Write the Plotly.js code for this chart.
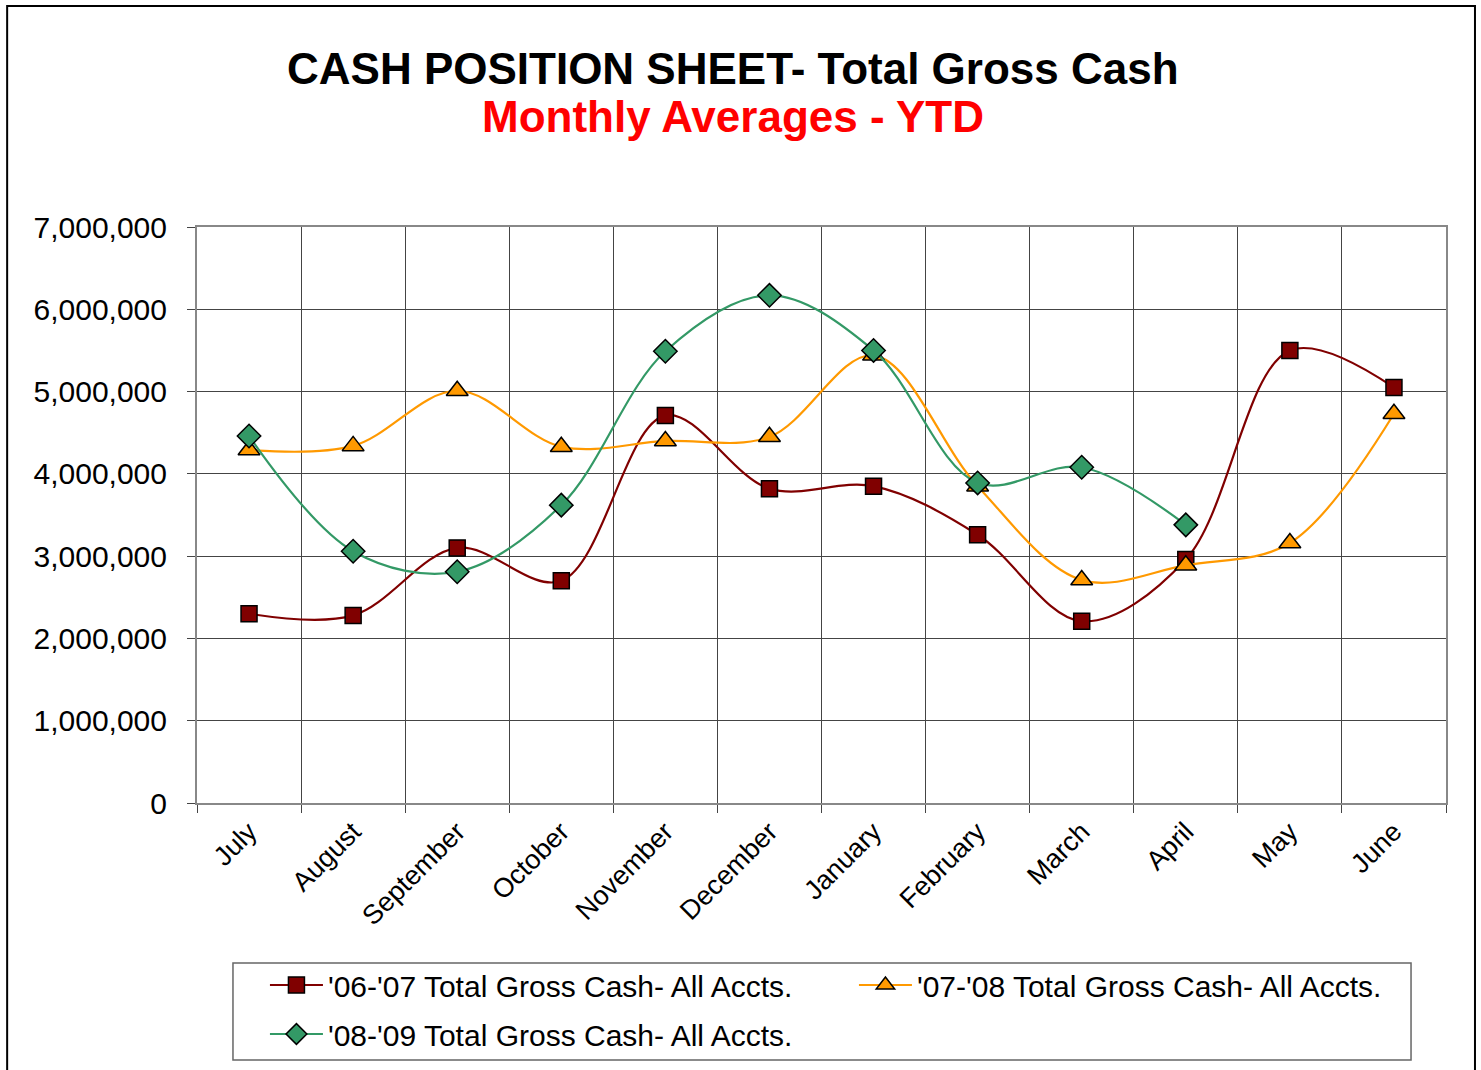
<!DOCTYPE html>
<html>
<head>
<meta charset="utf-8">
<script src="https://cdn.plot.ly/plotly-3.0.1.min.js"></script>
<style>
  body { margin: 0; background: #fff; }
  #chart { width: 1481px; height: 1070px; }
</style>
</head>
<body>
<div id="chart"></div>
<script>
'use strict'
// months of the fiscal year
let months = ['July', 'August', 'September', 'October', 'November', 'December',
  'January', 'February', 'March', 'April', 'May', 'June'];

// monthly average gross cash
let cash0607 = [2300000, 2280000, 3100000, 2700000, 4710000, 3820000,
  3850000, 3260000, 2210000, 2960000, 5500000, 5050000];
let cash0708 = [4290000, 4340000, 5010000, 4330000, 4400000, 4450000,
  5440000, 3850000, 2710000, 2890000, 3160000, 4730000];
let cash0809 = [4460000, 3060000, 2810000, 3620000, 5490000, 6170000,
  5500000, 3890000, 4080000, 3380000, null, null];

let names = ["'06-'07 Total Gross Cash- All Accts.",
  "'07-'08 Total Gross Cash- All Accts.",
  "'08-'09 Total Gross Cash- All Accts."];

let font = 'Liberation Sans, Arial, sans-serif';

function series(y, name, color, symbol, size, legend) {
  return {
    x: months, y: y, name: name, type: 'scatter', mode: 'lines+markers',
    line: {color: color, width: 2.2, shape: 'spline', smoothing: 1},
    marker: {symbol: symbol, size: size, color: color, line: {color: '#000', width: 1.5}},
    connectgaps: false, legend: legend
  };
}

let traces = [
  series(cash0607, names[0], '#800000', 'square', 16, 'legend'),
  series(cash0708, names[1], '#FF9900', 'triangle-up', 19, 'legend'),
  series(cash0809, names[2], '#339966', 'diamond', 18, 'legend2')
];

// legend rows (second legend gives the wider row gap)
let legendBase = {
  orientation: 'h', xanchor: 'left', yanchor: 'top',
  entrywidth: 521, entrywidthmode: 'pixels', itemwidth: 53,
  borderwidth: 0, bgcolor: 'rgba(0,0,0,0)',
  font: {size: 30, family: font}
};

let layout = {
  width: 1481, height: 1070,
  margin: {l: 197, r: 35, t: 227, b: 267, autoexpand: false},
  paper_bgcolor: '#fff', plot_bgcolor: '#fff',
  font: {family: font, color: '#000'},
  showlegend: true,
  xaxis: {
    type: 'category', range: [-0.5, 11.5], tickson: 'boundaries',
    showgrid: true, gridcolor: '#444', gridwidth: 1,
    ticks: 'outside', ticklen: 8, tickcolor: '#444',
    showline: true, mirror: true, linecolor: '#888', linewidth: 2,
    tickangle: -45, tickfont: {size: 27, family: font}
  },
  yaxis: {
    range: [0, 7000000], dtick: 1000000, tickformat: ',d',
    showgrid: true, gridcolor: '#444', gridwidth: 1,
    ticks: 'outside', ticklen: 8, tickcolor: '#444',
    showline: true, mirror: true, linecolor: '#888', linewidth: 2,
    zeroline: false, ticklabelstandoff: 14,
    tickfont: {size: 30, family: font}
  },
  legend: Object.assign({}, legendBase, {x: 0.0544, y: -0.2708}),
  legend2: Object.assign({}, legendBase, {x: 0.0544, y: -0.3559}),
  annotations: [
    {text: '<b>CASH POSITION SHEET- Total Gross Cash</b>', xref: 'paper', yref: 'paper',
      x: 0.429, y: 1.276, xanchor: 'center', yanchor: 'middle', showarrow: false,
      font: {size: 44, family: font, color: '#000'}},
    {text: '<b>Monthly Averages - YTD</b>', xref: 'paper', yref: 'paper',
      x: 0.429, y: 1.191, xanchor: 'center', yanchor: 'middle', showarrow: false,
      font: {size: 44, family: font, color: '#FF0000'}}
  ],
  shapes: [
    // chart frame
    {type: 'rect', xref: 'paper', yref: 'paper', x0: -0.152, x1: 1.0232, y0: -0.6, y1: 1.3837,
      line: {color: '#000', width: 2}, layer: 'below'},
    // legend box
    {type: 'rect', xref: 'paper', yref: 'paper', x0: 0.0288, x1: 0.972, y0: -0.4462, y1: -0.2778,
      line: {color: '#666', width: 1.5}, layer: 'below'}
  ]
};

Plotly.newPlot(document.getElementById('chart'), traces, layout, {displayModeBar: false});
</script>
</body>
</html>
